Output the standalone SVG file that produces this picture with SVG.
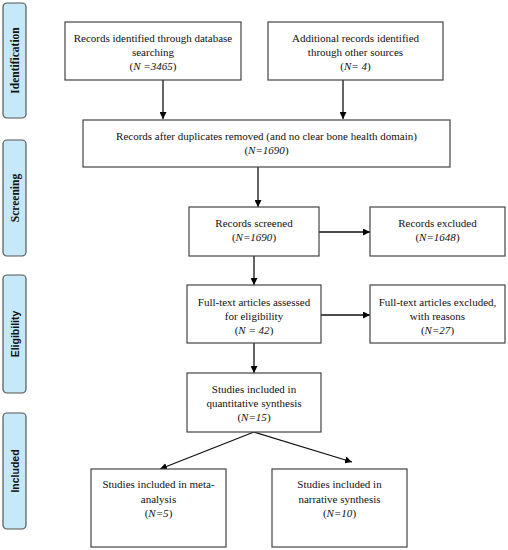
<svg xmlns="http://www.w3.org/2000/svg" width="508" height="550" viewBox="0 0 508 550">
<defs>
<marker id="ah" viewBox="0 0 10 10" refX="10" refY="5" markerWidth="7" markerHeight="7" markerUnits="userSpaceOnUse" orient="auto">
<path d="M0,0 L10,5 L0,10 z" fill="#000"/>
</marker>
<style>
.box{fill:#fff;stroke:#444;stroke-width:1.2}
.side{fill:#c6e9fa;stroke:#555;stroke-width:1.2}
.t{font-family:"Liberation Serif","Times New Roman",serif;font-size:11px;fill:#111;text-anchor:middle}
.i{font-style:italic}
.ss{font-family:"Liberation Serif","Times New Roman",serif;font-weight:bold;font-size:11.5px;fill:#111;text-anchor:middle}
.sa{font-family:"Liberation Sans",Arial,sans-serif;font-weight:bold;font-size:10.5px;fill:#111;text-anchor:middle}
.c{stroke:#111;stroke-width:1.3;fill:none;marker-end:url(#ah)}
</style>
</defs>
<rect width="508" height="550" fill="#fff"/>
<g id="side-identification"><rect class="side" x="3" y="3" width="23" height="115" rx="4"/><text class="ss" transform="translate(18.5,60.5) rotate(-90)">Identification</text></g>
<g id="side-screening"><rect class="side" x="3" y="140" width="23" height="116" rx="4"/><text class="ss" transform="translate(18.5,198) rotate(-90)">Screening</text></g>
<g id="side-eligibility"><rect class="side" x="3" y="275" width="23" height="118" rx="4"/><text class="sa" transform="translate(18.5,334) rotate(-90)">Eligibility</text></g>
<g id="side-included"><rect class="side" x="3" y="413" width="23" height="116" rx="4"/><text class="sa" transform="translate(18.5,471) rotate(-90)">Included</text></g>

<g id="connectors">
<line class="c" x1="163" y1="80" x2="163" y2="119"/>
<line class="c" x1="343" y1="80" x2="343" y2="119"/>
<line class="c" x1="258" y1="167" x2="258" y2="207"/>
<line class="c" x1="319" y1="232" x2="370" y2="232"/>
<line class="c" x1="254" y1="256" x2="254" y2="285"/>
<line class="c" x1="321" y1="315" x2="370" y2="315"/>
<line class="c" x1="254" y1="343" x2="254" y2="373"/>
<line class="c" x1="254" y1="432" x2="160" y2="469"/>
<line class="c" x1="254" y1="432" x2="352" y2="462"/>
</g>

<g id="n1"><rect class="box" x="65" y="22" width="176" height="58"/><text class="t" x="153" y="42">Records identified through database</text><text class="t" x="153" y="56">searching</text><text class="t" x="153" y="70">(<tspan class="i">N =3465</tspan>)</text></g>
<g id="n2"><rect class="box" x="268" y="22" width="175" height="58"/><text class="t" x="355.5" y="42">Additional records identified</text><text class="t" x="355.5" y="56">through other sources</text><text class="t" x="355.5" y="70">(<tspan class="i">N= 4</tspan>)</text></g>
<g id="n3"><rect class="box" x="83" y="120" width="367" height="47"/><text class="t" x="266.5" y="140">Records after duplicates removed (and no clear bone health domain)</text><text class="t" x="266.5" y="154">(<tspan class="i">N=1690</tspan>)</text></g>
<g id="n4"><rect class="box" x="189" y="207" width="130" height="49"/><text class="t" x="254" y="227">Records screened</text><text class="t" x="254" y="241">(<tspan class="i">N=1690</tspan>)</text></g>
<g id="n5"><rect class="box" x="370" y="207" width="135" height="49"/><text class="t" x="437.5" y="227">Records excluded</text><text class="t" x="437.5" y="241">(<tspan class="i">N=1648</tspan>)</text></g>
<g id="n6"><rect class="box" x="187" y="285" width="134" height="58"/><text class="t" x="254" y="306">Full-text articles assessed</text><text class="t" x="254" y="320">for eligibility</text><text class="t" x="254" y="334">(<tspan class="i">N = 42</tspan>)</text></g>
<g id="n7"><rect class="box" x="370" y="285" width="135" height="58"/><text class="t" x="437.5" y="306">Full-text articles excluded,</text><text class="t" x="437.5" y="320">with reasons</text><text class="t" x="437.5" y="334">(<tspan class="i">N=27</tspan>)</text></g>
<g id="n8"><rect class="box" x="187" y="373" width="134" height="59"/><text class="t" x="254" y="393">Studies included in</text><text class="t" x="254" y="407">quantitative synthesis</text><text class="t" x="254" y="421">(<tspan class="i">N=15</tspan>)</text></g>
<g id="n9"><rect class="box" x="91" y="469" width="135" height="78"/><text class="t" x="158.5" y="488">Studies included in meta-</text><text class="t" x="158.5" y="503">analysis</text><text class="t" x="158.5" y="517">(<tspan class="i">N=5</tspan>)</text></g>
<g id="n10"><rect class="box" x="272" y="469" width="135" height="78"/><text class="t" x="339.5" y="488">Studies included in</text><text class="t" x="339.5" y="503">narrative synthesis</text><text class="t" x="339.5" y="517">(<tspan class="i">N=10</tspan>)</text></g>
</svg>
